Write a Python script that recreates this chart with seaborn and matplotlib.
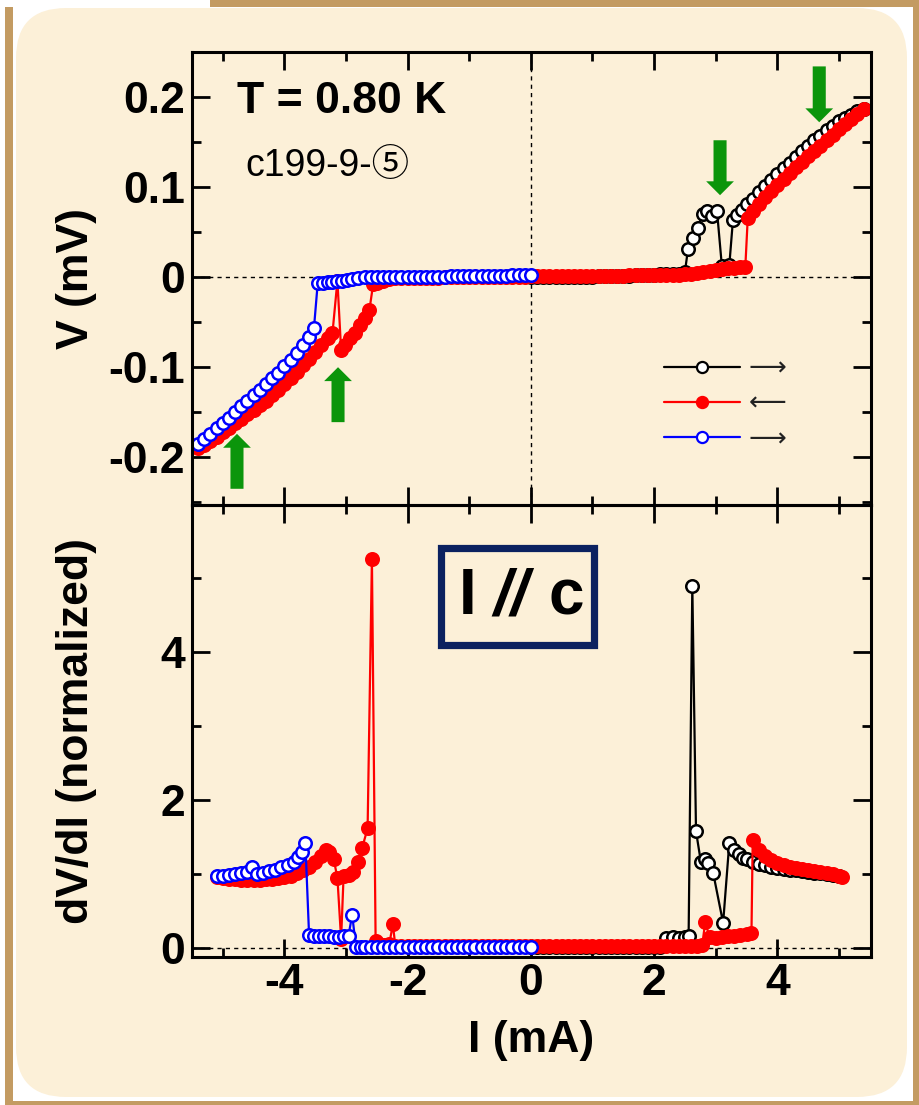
import matplotlib.pyplot as plt
import seaborn as sns
from matplotlib.lines import Line2D
from matplotlib.patches import Rectangle, FancyBboxPatch
from matplotlib.transforms import IdentityTransform
from matplotlib.ticker import MultipleLocator, FixedLocator, FuncFormatter

sns.set_style('ticks')
plt.rcParams['font.family'] = ['Liberation Sans', 'DejaVu Sans']
plt.rcParams['axes.unicode_minus'] = False
for k in ['text.color', 'axes.labelcolor', 'axes.edgecolor', 'xtick.color', 'ytick.color']:
    plt.rcParams[k] = 'black'

# --------------V(I): sweep 1, 0 -> +5.4 mA (black open)--------------
i_up1 = [0.0, 0.1, 0.2, 0.3, 0.4, 0.5, 0.6, 0.7, 0.8, 0.9, 1.0, 1.1, 1.2, 1.3, 1.4, 1.5, 1.6, 1.7, 1.8, 1.9,
         2.0, 2.1, 2.2, 2.3, 2.4, 2.5, 2.55, 2.63, 2.71, 2.79, 2.86, 2.94, 3.02, 3.1, 3.22, 3.28, 3.35, 3.42,
         3.5, 3.6, 3.7, 3.8, 3.9, 4.0, 4.1, 4.2, 4.3, 4.4, 4.5, 4.6, 4.7, 4.8, 4.9, 5.0, 5.1, 5.2, 5.3, 5.4]
v_up1 = [0.000, 0.000, 0.000, 0.000, 0.000, 0.000, 0.000, 0.000, 0.000, 0.000, 0.000, 0.001, 0.001, 0.001,
         0.001, 0.001, 0.001, 0.002, 0.002, 0.002, 0.002, 0.003, 0.003, 0.003, 0.004, 0.006, 0.031, 0.043,
         0.055, 0.070, 0.073, 0.068, 0.074, 0.012, 0.013, 0.064, 0.069, 0.075, 0.081, 0.087, 0.094, 0.101,
         0.108, 0.114, 0.121, 0.127, 0.133, 0.140, 0.146, 0.152, 0.157, 0.163, 0.168, 0.173, 0.177, 0.180,
         0.184, 0.187]

# --------------V(I): sweep 2, +5.4 -> -5.4 mA (red filled)--------------
i_dn = [5.4, 5.3, 5.2, 5.1, 5.0, 4.9, 4.8, 4.7, 4.6, 4.5, 4.4, 4.3, 4.2, 4.1, 4.0, 3.9, 3.8, 3.7, 3.6, 3.52,
        3.48, 3.4, 3.3, 3.2, 3.1, 3.0, 2.9, 2.8, 2.7, 2.6, 2.5, 2.4, 2.3, 2.2, 2.1, 2.0, 1.9, 1.8, 1.7, 1.6,
        1.5, 1.4, 1.3, 1.2, 1.1, 1.0, 0.9, 0.8, 0.7, 0.6, 0.5, 0.4, 0.3, 0.2, 0.1, 0.0,
        -0.1, -0.2, -0.3, -0.4, -0.5, -0.6, -0.7, -0.8, -0.9, -1.0, -1.1, -1.2, -1.3, -1.4, -1.5, -1.6,
        -1.7, -1.8, -1.9, -2.0, -2.1, -2.2, -2.3, -2.4, -2.5, -2.56, -2.62, -2.70, -2.78, -2.86, -2.94,
        -3.02, -3.08, -3.14, -3.22, -3.3, -3.4, -3.5, -3.6, -3.7, -3.8, -3.9, -4.0, -4.1, -4.2, -4.3,
        -4.4, -4.5, -4.6, -4.7, -4.8, -4.9, -5.0, -5.1, -5.2, -5.3, -5.4]
v_dn = [0.187, 0.181, 0.176, 0.170, 0.164, 0.158, 0.152, 0.146, 0.140, 0.134, 0.128, 0.122, 0.116, 0.109,
        0.102, 0.096, 0.089, 0.081, 0.074, 0.066,
        0.011, 0.011, 0.010, 0.010, 0.009, 0.008, 0.007, 0.006, 0.005, 0.004, 0.003, 0.002, 0.002, 0.002,
        0.002, 0.002, 0.002, 0.002, 0.002, 0.002, 0.001, 0.001, 0.001, 0.001, 0.001, 0.001, 0.001, 0.001,
        0.001, 0.001, 0.001, 0.001, 0.001, 0.001, 0.001, 0.001,
        0.000, 0.000, 0.000, 0.000, 0.000, 0.000, 0.000, 0.000, 0.000, 0.000, 0.000, 0.000, 0.000, 0.000,
        -0.001, -0.001, -0.001, -0.001, -0.001, -0.001, -0.001, -0.001, -0.002, -0.004, -0.006,
        -0.008, -0.036, -0.045, -0.053, -0.062, -0.068, -0.075, -0.081, -0.004, -0.062, -0.068,
        -0.075, -0.083, -0.091, -0.098, -0.105, -0.112, -0.119, -0.125, -0.131, -0.137, -0.142, -0.147,
        -0.152, -0.157, -0.162, -0.167, -0.172, -0.177, -0.182, -0.186, -0.190]

# --------------V(I): sweep 3, -5.4 -> 0 mA (blue open)--------------
i_up2 = [-5.4, -5.3, -5.2, -5.1, -5.0, -4.9, -4.8, -4.7, -4.6, -4.5, -4.4, -4.3, -4.2, -4.1, -4.0, -3.9,
         -3.8, -3.7, -3.6, -3.52, -3.46, -3.38, -3.3, -3.22, -3.14, -3.06, -2.98, -2.9, -2.8,
         -2.7, -2.6, -2.5, -2.4, -2.3, -2.2, -2.1, -2.0, -1.9, -1.8, -1.7, -1.6, -1.5, -1.4, -1.3, -1.2,
         -1.1, -1.0, -0.9, -0.8, -0.7, -0.6, -0.5, -0.4, -0.3, -0.2, -0.1, 0.0]
v_up2 = [-0.185, -0.180, -0.174, -0.168, -0.162, -0.156, -0.150, -0.143, -0.137, -0.131, -0.125, -0.119,
         -0.112, -0.106, -0.099, -0.092, -0.084, -0.075, -0.066, -0.056, -0.007, -0.006, -0.005, -0.005,
         -0.004, -0.004, -0.003, -0.002, -0.001,
         0.000, 0.000, 0.000, 0.000, 0.000, 0.000, 0.000, 0.000, 0.000, 0.000, 0.000, 0.000, 0.000, 0.000,
         0.001, 0.001, 0.001, 0.001, 0.001, 0.001, 0.001, 0.001, 0.001, 0.001, 0.002, 0.002, 0.002, 0.002]

# --------------dV/dI (normalized) for the same three sweeps--------------
id_up1 = [0.0, 0.1, 0.2, 0.3, 0.4, 0.5, 0.6, 0.7, 0.8, 0.9, 1.0, 1.1, 1.2, 1.3, 1.4, 1.5, 1.6, 1.7, 1.8,
          1.9, 2.0, 2.1, 2.2, 2.3, 2.4, 2.5, 2.56, 2.62, 2.68, 2.76, 2.82, 2.88, 2.96, 3.12, 3.22, 3.3,
          3.37, 3.44, 3.5, 3.6, 3.7, 3.8, 3.9, 4.0, 4.1, 4.2, 4.3, 4.4, 4.5, 4.6, 4.7, 4.8, 4.9, 5.0]
d_up1 = [0.01, 0.01, 0.01, 0.01, 0.01, 0.01, 0.01, 0.01, 0.01, 0.01, 0.01, 0.01, 0.01, 0.01, 0.01, 0.01,
         0.01, 0.01, 0.01, 0.01, 0.01, 0.01, 0.14, 0.15, 0.14, 0.15, 0.16, 4.90, 1.58, 1.16, 1.20, 1.15,
         1.01, 0.34, 1.42, 1.32, 1.27, 1.22, 1.20, 1.16, 1.14, 1.12, 1.10, 1.08, 1.07, 1.06, 1.05, 1.04,
         1.03, 1.02, 1.01, 1.00, 0.99, 0.98]

id_dn = [5.05, 5.0, 4.9, 4.8, 4.7, 4.6, 4.5, 4.4, 4.3, 4.2, 4.1, 4.0, 3.9, 3.8, 3.7, 3.6,
         3.58, 3.5, 3.4, 3.3, 3.2, 3.1, 3.0, 2.9, 2.83, 2.78,
         2.7, 2.6, 2.5, 2.4, 2.3, 2.2, 2.1, 2.0, 1.9, 1.8, 1.7, 1.6, 1.5, 1.4, 1.3, 1.2, 1.1, 1.0, 0.9,
         0.8, 0.7, 0.6, 0.5, 0.4, 0.3, 0.2, 0.1, 0.0, -0.1, -0.2, -0.3, -0.4, -0.5, -0.6, -0.7, -0.8,
         -0.9, -1.0, -1.1, -1.2, -1.3, -1.4, -1.5, -1.6, -1.7, -1.8, -1.9, -2.0, -2.1, -2.2,
         -2.24, -2.3, -2.38, -2.46, -2.52, -2.58, -2.65, -2.74, -2.8, -2.88, -2.96, -3.04, -3.08, -3.14,
         -3.2, -3.27, -3.33, -3.4, -3.5, -3.6, -3.7, -3.8, -3.9, -4.0, -4.1, -4.2, -4.3, -4.4, -4.5,
         -4.6, -4.7, -4.8, -4.9, -5.0, -5.1]
d_dn = [0.96, 0.98, 1.00, 1.01, 1.03, 1.04, 1.06, 1.07, 1.08, 1.10, 1.13, 1.15, 1.19, 1.24, 1.32, 1.46,
        0.20, 0.19, 0.18, 0.17, 0.16, 0.15, 0.14, 0.15, 0.35, 0.04,
        0.03, 0.03, 0.03, 0.03, 0.03, 0.03, 0.03, 0.03, 0.03, 0.03, 0.03, 0.03, 0.03, 0.03, 0.03, 0.03,
        0.03, 0.03, 0.03, 0.03, 0.03, 0.03, 0.03, 0.03, 0.03, 0.03, 0.03, 0.03, 0.03, 0.03, 0.03, 0.03,
        0.03, 0.03, 0.03, 0.03, 0.03, 0.03, 0.03, 0.03, 0.03, 0.03, 0.03, 0.03, 0.03, 0.03, 0.03, 0.03,
        0.03, 0.03,
        0.32, 0.05, 0.04, 0.06, 0.10, 5.26, 1.62, 1.35, 1.16, 1.03, 0.99, 0.97, 0.12, 0.95,
        1.20, 1.30, 1.32, 1.25, 1.16, 1.10, 1.05, 1.01, 0.98, 0.96, 0.95, 0.94, 0.93, 0.92, 0.92,
        0.92, 0.92, 0.93, 0.94, 0.95, 0.96]

id_up2 = [-5.1, -5.0, -4.9, -4.8, -4.7, -4.6, -4.52, -4.45, -4.35, -4.25, -4.15, -4.05, -3.95, -3.85,
          -3.78, -3.72, -3.66, -3.6, -3.52, -3.44, -3.36, -3.28, -3.2, -3.12, -3.04, -2.96, -2.9, -2.84,
          -2.76, -2.7, -2.6, -2.5, -2.4, -2.3, -2.2, -2.1, -2.0, -1.9, -1.8, -1.7, -1.6, -1.5, -1.4, -1.3,
          -1.2, -1.1, -1.0, -0.9, -0.8, -0.7, -0.6, -0.5, -0.4, -0.3, -0.2, -0.1, 0.0]
d_up2 = [0.97, 0.98, 0.99, 1.00, 1.01, 1.03, 1.09, 1.00, 1.02, 1.04, 1.06, 1.09, 1.12, 1.17, 1.23, 1.30,
         1.42, 0.18, 0.17, 0.17, 0.16, 0.16, 0.15, 0.15, 0.16, 0.17, 0.45, 0.02, 0.01,
         0.01, 0.01, 0.01, 0.01, 0.01, 0.01, 0.01, 0.01, 0.01, 0.01, 0.01, 0.01, 0.01, 0.01, 0.01, 0.01,
         0.01, 0.01, 0.01, 0.01, 0.01, 0.01, 0.01, 0.01, 0.01, 0.01, 0.01, 0.01]

# green arrows (tail -> head, data coords of the upper panel)
arrow_x = [3.07, 4.68, -4.77, -3.13]
arrow_tail = [0.152, 0.234, -0.235, -0.161]
arrow_head = [0.091, 0.172, -0.174, -0.100]

sweep_labels = ['\u27f6', '\u27f5', '\u27f6']

# --------------figure + frame--------------
W, H = 920, 1105
fig = plt.figure(figsize=(W / 100, H / 100), dpi=100)
fig.patch.set_facecolor('white')
tan = '#c39b62'
cream = '#fcf0d8'
px = IdentityTransform()
for (x0, y0, w, h) in [(210, H - 7, 710, 7), (5, 0, 8, H - 7), (913, 0, 7, H), (5, 0, 915, 4)]:
    fig.add_artist(Rectangle((x0, y0), w, h, transform=px, color=tan, lw=0, zorder=-10))
fig.add_artist(FancyBboxPatch((16, 8), 891, 1089, boxstyle='round,pad=0,rounding_size=50',
                              transform=px, fc=cream, ec='none', zorder=-9))

ax1 = fig.add_axes([192 / W, 1 - 505 / H, 679 / W, 453 / H])
ax2 = fig.add_axes([192 / W, 1 - 957 / H, 679 / W, 452 / H])

styles = [
    dict(color='black', markerfacecolor='white', markeredgecolor='black'),
    dict(color='red', markerfacecolor='red', markeredgecolor='red'),
    dict(color='blue', markerfacecolor='white', markeredgecolor='blue'),
]
common = dict(marker='o', markersize=9, markeredgewidth=1.8, linewidth=1.6, sort=False, estimator=None)

for ax, sweeps in [(ax1, [(i_up1, v_up1), (i_dn, v_dn), (i_up2, v_up2)]),
                   (ax2, [(id_up1, d_up1), (id_dn, d_dn), (id_up2, d_up2)])]:
    ax.set_facecolor('none')
    ax.axhline(0, color='black', lw=1.0, ls=(0, (3, 3)), zorder=1)
    for (xx, yy), st in zip(sweeps, styles):
        sns.lineplot(x=xx, y=yy, ax=ax, **common, **st)
    ax.set_xlim(-5.5, 5.52)
    ax.xaxis.set_major_locator(MultipleLocator(2))
    ax.xaxis.set_minor_locator(MultipleLocator(1))
    ax.tick_params(which='both', direction='in', top=True, right=True, width=2, color='black')
    ax.tick_params(which='major', length=13, labelsize=32, pad=5, labelcolor='black')
    ax.tick_params(which='minor', length=6.5)
    for s in ax.spines.values():
        s.set_linewidth(2.2)
        s.set_color('black')

ax1.axvline(0, color='black', lw=1.0, ls=(0, (3, 3)), zorder=1)
ax1.set_ylim(-0.253, 0.25)
ax1.yaxis.set_major_locator(MultipleLocator(0.1))
ax1.yaxis.set_minor_locator(MultipleLocator(0.05))
ax1.yaxis.set_major_formatter(FuncFormatter(lambda v, p: '0' if abs(v) < 1e-9 else f'{v:.1f}'))
ax1.tick_params(labelbottom=False)

ax2.set_ylim(-0.12, 5.99)
ax2.yaxis.set_major_locator(FixedLocator([0, 2, 4]))
ax2.yaxis.set_minor_locator(FixedLocator([1, 3, 5]))
ax2.xaxis.set_major_formatter(FuncFormatter(lambda v, p: f'{v:.0f}'))
ax2.yaxis.set_major_formatter(FuncFormatter(lambda v, p: f'{v:.0f}'))
ax2.tick_params(axis='x', pad=4)

for ax in (ax1, ax2):
    for lab in ax.get_xticklabels() + ax.get_yticklabels():
        lab.set_fontweight('bold')

ax1.set_ylabel('V (mV)', fontsize=32, fontweight='bold')
ax2.set_ylabel('dV/dI (normalized)', fontsize=32, fontweight='bold')
ax2.set_xlabel('I (mA)', fontsize=32, fontweight='bold')
ax1.yaxis.set_label_coords(-0.14, 0.5)
ax2.yaxis.set_label_coords(-0.14, 0.5)
ax2.xaxis.set_label_coords(0.5, -0.14)

# --------------annotations--------------
ax1.text(0.066, 0.89, 'T = 0.80 K', transform=ax1.transAxes, fontsize=32, fontweight='bold',
         ha='left', va='center')
ax1.text(0.078, 0.748, 'c199-9-\u2464', transform=ax1.transAxes, fontsize=27, ha='left', va='center',
         family=['Liberation Sans', 'Noto Sans CJK JP', 'DejaVu Sans'])

for x, t, h in zip(arrow_x, arrow_tail, arrow_head):
    ax1.annotate('', xy=(x, h), xytext=(x, t),
                 arrowprops=dict(arrowstyle='simple,head_length=0.5,head_width=1.0,tail_width=0.47',
                                 mutation_scale=20, color='#0b950b', lw=0, shrinkA=0, shrinkB=0))

handles = [Line2D([], [], marker='o', markersize=8, markeredgewidth=1.6, linewidth=1.6, **st) for st in styles]
leg = ax1.legend(handles, sweep_labels, loc='center left', bbox_to_anchor=(0.695, 0.223),
                 frameon=False, borderpad=0, borderaxespad=0, handlelength=2.9, handletextpad=0.3,
                 labelspacing=0.35, prop={'family': ['DejaVu Sans'], 'size': 19})
for t in leg.get_texts():
    t.set_color('#222222')

ax2.add_patch(Rectangle((0.366, 0.691), 0.226, 0.213, transform=ax2.transAxes, fill=False,
                        ec='#0b2160', lw=5.2, zorder=5))
ax2.text(0.406, 0.796, 'I', transform=ax2.transAxes, fontsize=46, fontweight='bold', ha='center', va='center')
ax2.text(0.470, 0.796, '//', transform=ax2.transAxes, fontsize=46, fontweight='bold', style='italic',
         ha='center', va='center')
ax2.text(0.551, 0.796, 'c', transform=ax2.transAxes, fontsize=46, fontweight='bold', ha='center', va='center')

fig.savefig('out.png', dpi=100)
